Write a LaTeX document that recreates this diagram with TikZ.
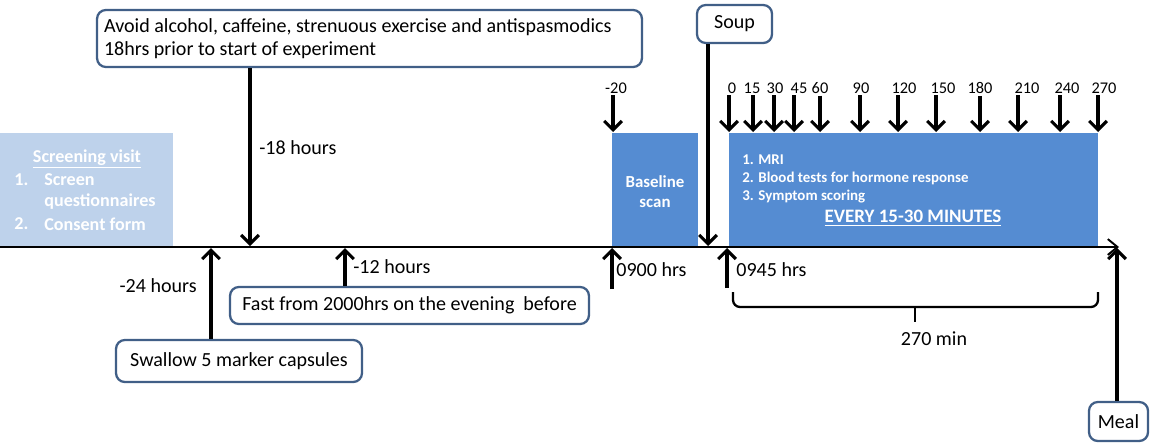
\documentclass[tikz,border=0pt]{standalone}
\usepackage{fontspec}
\setmainfont{Carlito}
\usepackage{tikz}
\usetikzlibrary{arrows.meta}
\usepackage{xcolor}

\definecolor{boxedge}{RGB}{65,95,135}
\definecolor{paleblue}{RGB}{190,210,235}
\definecolor{scanblue}{RGB}{85,140,210}

\tikzset{
  note/.style={draw=boxedge, line width=1.3pt, rounded corners=5pt, fill=white,
    inner sep=0pt, font=\fontsize{11.4}{13.2}\selectfont},
  arr/.style={line width=1.8pt, -{Straight Barb[length=5pt,width=10pt]}},
  ticklabel/.style={inner sep=1pt, font=\fontsize{9.3}{10}\selectfont},
  lbl/.style={inner sep=0pt, font=\fontsize{11.4}{13.2}\selectfont},
  whitetext/.style={inner sep=0pt, text=white, font=\bfseries\fontsize{10.3}{12}\selectfont},
  smallwhite/.style={inner sep=0pt, text=white, font=\bfseries\fontsize{8.5}{9}\selectfont},
}

\begin{document}
\begin{tikzpicture}[x=0.02cm, y=-0.02cm]
          \useasboundingbox (0,0) rectangle (1150,443);

          % screening visit
          \node[fill=paleblue, minimum width=3.46cm, minimum height=2.28cm, inner sep=0pt] (screen) at (86.5,190) {};
          \node[whitetext] (screentitle) at (87,159) {\underline{Screening visit}};
          \node[whitetext, anchor=west] (screenno1) at (14,180) {1.};
          \node[whitetext, anchor=west] (screenitem1) at (44,180) {Screen};
          \node[whitetext, anchor=west] (screenitem1b) at (44,202) {questionnaires};
          \node[whitetext, anchor=west] (screenno2) at (14,224) {2.};
          \node[whitetext, anchor=west] (screenitem2) at (44,224) {Consent form};

          % baseline scan
          \node[fill=scanblue, minimum width=1.72cm, minimum height=2.28cm, inner sep=0pt] (baseline) at (655,190) {};
          \node[whitetext, align=center, font=\bfseries\fontsize{9.6}{11.4}\selectfont] (baselinetext) at (655,192) {Baseline\\scan};

          % measurement block
          \node[fill=scanblue, minimum width=7.38cm, minimum height=2.28cm, inner sep=0pt] (measure) at (913.5,190) {};
          \node[smallwhite, anchor=west] (mri) at (742,160) {1. MRI};
          \node[smallwhite, anchor=west] (blood) at (742,178) {2. Blood tests for hormone response};
          \node[smallwhite, anchor=west] (symptom) at (742,197) {3. Symptom scoring};
          \node[whitetext, font=\bfseries\fontsize{10.8}{12}\selectfont] (every) at (913,218) {\underline{EVERY 15-30 MINUTES}};

          % time line
          \coordinate (tstart) at (0,247);
          \coordinate (tend) at (1119,247);
          \draw[line width=1.1pt, -{Straight Barb[length=5.5pt,width=9pt]}] (tstart) -- (tend);

          % before the day
          \node[note, minimum width=10.9cm, minimum height=1.14cm, text width=10.62cm, align=flush left] (avoid) at (369.5,38.5)
            {Avoid alcohol, caffeine, strenuous exercise and antispasmodics\\18hrs prior to start of experiment};
          \coordinate (t18) at (250,246);
          \draw[arr] (avoid.south -| t18) -- (t18);
          \node[lbl, anchor=west] (h18) at (259,148) {-18 hours};

          \node[note, minimum width=4.92cm, minimum height=0.84cm] (swallow) at (239,361) {Swallow 5 marker capsules};
          \coordinate (t24) at (211,248);
          \draw[arr] (swallow.north -| t24) -- (t24);
          \node[lbl, anchor=east] (h24) at (197,286) {-24 hours};

          \node[note, minimum width=7.18cm, minimum height=0.74cm] (fast) at (409.5,305.5) {Fast from 2000hrs on the evening\ \ before};
          \coordinate (t12) at (345,248);
          \draw[arr] (fast.north -| t12) -- (t12);
          \node[lbl, anchor=west] (h12) at (353,267) {-12 hours};

          % scan day
          \node[ticklabel] (tkm20) at (616,88) {-20};
          \coordinate (m20) at (613,132);
          \draw[arr] (tkm20.south -| m20) -- (m20);

          \coordinate (t0900) at (612,248);
          \coordinate (b0900) at (612,289);
          \draw[arr] (b0900) -- (t0900);
          \node[lbl, anchor=west] (h0900) at (616,270) {0900 hrs};

          \node[note, minimum width=1.5cm, minimum height=0.76cm] (soup) at (734.5,24) {Soup};
          \coordinate (tsoup) at (708,246);
          \draw[arr] (soup.south -| tsoup) -- (tsoup);

          \coordinate (t0945) at (727,248);
          \coordinate (b0945) at (727,288);
          \draw[arr] (b0945) -- (t0945);
          \node[lbl, anchor=west] (h0945) at (736,270) {0945 hrs};

          % sampling times
          \foreach \x/\lx/\t in {729/732/0, 753/752/15, 774/775/30, 794/799/45, 820/820/60, 860/861/90,
                                 898/904/120, 936/943/150, 980/980/180, 1018/1027/210, 1060/1067/240, 1098/1104/270} {
            \node[ticklabel] (tk\t) at (\lx,88) {\t};
            \coordinate (top\t) at (\x,132);
            \draw[arr] (tk\t.south -| top\t) -- (top\t);
          }

          % duration
          \coordinate (bl) at (733,292);
          \coordinate (bm) at (915,307);
          \coordinate (br) at (1098,292);
          \draw[line width=1.3pt, rounded corners=4pt] (bl) |- (bm) -| (br);
          \draw[line width=1.3pt] (bm) -- ++(0,15);
          \node[lbl] (dur) at (934,339) {270 min};

          % meal
          \node[note, minimum width=1.18cm, minimum height=0.78cm] (meal) at (1118.5,421.5) {Meal};
          \coordinate (tmeal) at (1117,248);
          \draw[arr] (meal.north -| tmeal) -- (tmeal);
\end{tikzpicture}
\end{document}
